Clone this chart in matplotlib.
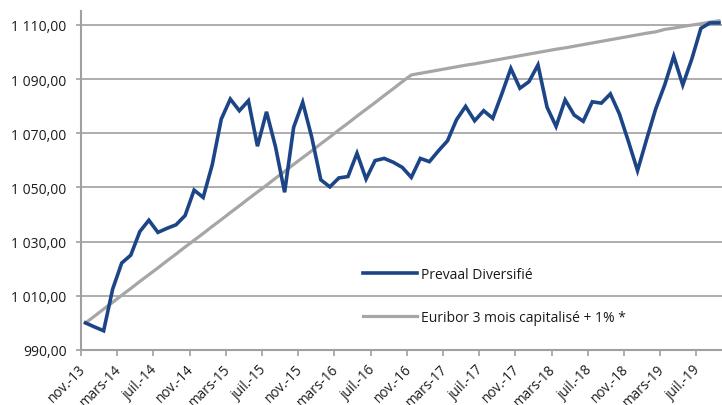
import matplotlib
matplotlib.use("Agg")
import matplotlib.pyplot as plt
import matplotlib.transforms as mtransforms
import numpy as np

plt.rcParams['font.family'] = ['Open Sans', 'DejaVu Sans']

# monthly values, nov.-13 .. sept.-19
prevaal = [1000.0, 998.5, 997.1, 1012.5, 1022.1, 1025.0, 1033.7, 1037.9, 1033.4, 1034.9,
           1036.2, 1039.6, 1049.0, 1046.3, 1058.3, 1075.2, 1082.6, 1078.3, 1082.0, 1065.2,
           1077.9, 1064.9, 1048.2, 1072.2, 1081.4, 1068.5, 1052.8, 1050.2, 1053.5, 1054.0,
           1062.6, 1053.1, 1059.9, 1060.7, 1059.3, 1057.4, 1053.7, 1060.7, 1059.5, 1063.5,
           1067.2, 1075.0, 1079.9, 1074.6, 1078.3, 1075.5, 1084.5, 1093.9, 1086.6, 1089.0,
           1095.2, 1079.6, 1072.5, 1082.3, 1076.7, 1074.4, 1081.6, 1081.1, 1084.5, 1077.1,
           1066.9, 1056.2, 1067.7, 1078.9, 1087.8, 1098.4, 1087.8, 1097.4, 1108.7, 1110.7,
           1110.7]

euribor = [1000.0, 1002.5, 1005.1, 1007.6, 1010.2, 1012.7, 1015.3, 1017.8, 1020.3, 1022.9,
           1025.4, 1028.0, 1030.5, 1033.0, 1035.6, 1038.1, 1040.7, 1043.2, 1045.8, 1048.3,
           1050.8, 1053.4, 1055.9, 1058.5, 1061.0, 1063.5, 1066.1, 1068.6, 1071.2, 1073.7,
           1076.3, 1078.8, 1081.3, 1083.9, 1086.4, 1089.0, 1091.5, 1092.1, 1092.7, 1093.3,
           1093.9, 1094.5, 1095.1, 1095.6, 1096.2, 1096.8, 1097.4, 1098.0, 1098.6, 1099.2,
           1099.8, 1100.4, 1101.0, 1101.5, 1102.1, 1102.7, 1103.3, 1103.9, 1104.5, 1105.1,
           1105.7, 1106.3, 1106.9, 1107.4, 1108.3, 1108.8, 1109.4, 1109.9, 1110.4, 1111.0,
           1111.5]

month_labels = ['nov.-13', 'mars-14', 'juil.-14', 'nov.-14', 'mars-15', 'juil.-15',
                'nov.-15', 'mars-16', 'juil.-16', 'nov.-16', 'mars-17', 'juil.-17',
                'nov.-17', 'mars-18', 'juil.-18', 'nov.-18', 'mars-19', 'juil.-19']

yticks = [990, 1010, 1030, 1050, 1070, 1090, 1110]

series_names = ['Prevaal Diversifié', 'Euribor 3 mois capitalisé + 1% *']

BLUE = '#1c4587'
GREY = '#a6a6a6'
GRID = '#a0a0a0'
TXT = '#1a1a1a'

W, H = 722, 406
fig = plt.figure(figsize=(W / 100, H / 100), dpi=100)
ax = fig.add_axes([81 / W, 1 - 351 / H, (723.5 - 81) / W, (351 - 12) / H])

x = np.arange(len(prevaal))
ax.plot(x, prevaal, color=BLUE, lw=2.6, solid_joinstyle='miter', label=series_names[0], zorder=3)
ax.plot(x, euribor, color=GREY, lw=2.3, label=series_names[1], zorder=2)

ax.set_xlim(-0.5, len(prevaal) - 0.5)
ax.set_ylim(990, 1115.1)

# y axis
ax.set_yticks(yticks)
ax.set_yticklabels([f"{v:,.2f}".replace(",", " ").replace(".", ",") for v in yticks])
ax.grid(axis='y', color=GRID, lw=1.2)
ax.set_axisbelow(True)

# x axis: tick marks between categories, labels on every 4th month
ax.set_xticks(np.arange(-0.5, len(prevaal) - 1, 4))
ax.set_xticklabels([])
ax.set_xticks(np.arange(0, len(prevaal), 4), minor=True)
ax.set_xticklabels(month_labels, minor=True, rotation=45, ha='right', rotation_mode='default')
ax.tick_params(axis='x', which='major', length=4, width=1.2, color=GRID)
ax.tick_params(axis='x', which='minor', length=0, pad=8, labelsize=9.8, labelcolor=TXT)
ax.tick_params(axis='y', length=3.5, width=1.2, color=GRID, pad=7, labelsize=10, labelcolor=TXT)

# nudge the rotated month labels a little to the right, like the original
shift = mtransforms.ScaledTranslation(3 / 100, 0, fig.dpi_scale_trans)
for lab in ax.get_xticklabels(minor=True):
    lab.set_transform(lab.get_transform() + shift)

for s in ['top', 'right']:
    ax.spines[s].set_visible(False)
for s in ['left', 'bottom']:
    ax.spines[s].set_color(GRID)
    ax.spines[s].set_linewidth(1.5)

leg = ax.legend(loc='upper left', bbox_to_anchor=(363 / W, 1 - 268 / H),
                bbox_transform=fig.transFigure, frameon=False, fontsize=10,
                handlelength=3.9, handletextpad=0.25, labelspacing=2.0,
                borderpad=0, borderaxespad=0)
for t in leg.get_texts():
    t.set_color(TXT)

fig.savefig('out.png', dpi=100)
